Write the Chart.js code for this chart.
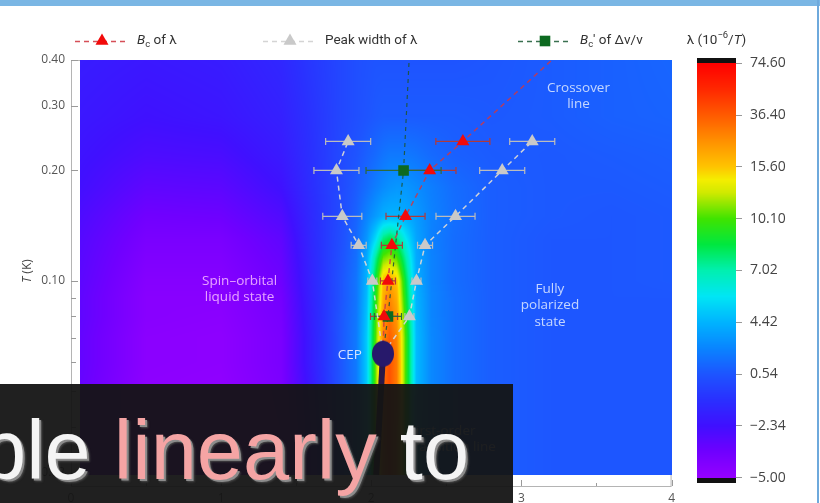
<!DOCTYPE html>
<html>
<head>
<meta charset="utf-8">
<script src="https://cdn.jsdelivr.net/npm/chart.js@4.4.1/dist/chart.umd.min.js"></script>
<style>
  html, body { margin: 0; padding: 0; background: #fff; width: 820px; height: 503px; overflow: hidden; }
  #main { position: absolute; left: 0; top: 0; }
  #bar { position: absolute; left: 670px; top: 0; }
  #frameTop { position: absolute; left: 0; top: 0; width: 820px; height: 6px; background: #7ab6e4; }
  #frameRight { position: absolute; left: 817px; top: 0; width: 2px; height: 503px; background: #6ea9dc; }
  #caption { position: absolute; left: 0; top: 384px; width: 513px; height: 119px; background: rgba(20, 20, 20, 0.95); overflow: hidden; }
  #caption .txt { position: absolute; left: -20px; top: 25px; font: 83px/83px "Liberation Sans", Arial, sans-serif; color: #f4f4f4; white-space: nowrap;
    text-shadow: 2px 2px 0 #8c8c8c, 3px 3px 2px #4a4a4a; }
  #caption .hl { color: #f5a4a4; }
</style>
</head>
<body>
<canvas id="main" width="680" height="503"></canvas>
<canvas id="bar" width="150" height="503"></canvas>
<div id="frameTop"></div>
<div id="frameRight"></div>
<div id="caption"><div class="txt">ble <span class="hl">linearly</span> to</div></div>
<script>
// ---- data: field B (T) and temperature T (K) ----
const bcField = [2.085, 2.111, 2.137, 2.228, 2.389, 2.610];
const bcTemp  = [0.08, 0.10, 0.125, 0.15, 0.20, 0.24];
const bcErr   = [0.09, 0.05, 0.07, 0.13, 0.175, 0.18];

const widthLowField = [2.007, 1.916, 1.807, 1.768, 1.846];
const widthLowTemp  = [0.10, 0.125, 0.15, 0.20, 0.24];
const widthLowErr   = [0.03, 0.05, 0.13, 0.15, 0.15];

const widthHighField = [2.254, 2.301, 2.358, 2.561, 2.872, 3.072];
const widthHighTemp  = [0.08, 0.10, 0.125, 0.15, 0.20, 0.24];
const widthHighErr   = [0.03, 0.03, 0.05, 0.13, 0.15, 0.15];

const sonicField = [2.111, 2.215];
const sonicTemp  = [0.08, 0.20];
const sonicErr   = [0.09, 0.25];

const cepField = 2.078;
const cepTemp  = 0.0633;

const crossoverField = [cepField, ...bcField, 3.203];
const crossoverTemp  = [cepTemp, ...bcTemp, 0.40];
const sonicLineField = [cepField, 2.111, 2.215, 2.252];
const sonicLineTemp  = [cepTemp, 0.08, 0.20, 0.40];
const firstOrderField = [cepField, 2.033];
const firstOrderTemp  = [cepTemp, 0.0296];

// λ map (10^-6/T) on a field x temperature grid
const mapField = [0.06, 0.5, 1.0, 1.4, 1.6, 1.8, 1.9, 1.97, 2.03, 2.08, 2.12, 2.17, 2.23, 2.3, 2.4, 2.55, 2.8, 3.2, 3.6, 4.0];
const mapTemp  = [0.0296, 0.04, 0.05, 0.06, 0.07, 0.08, 0.09, 0.10, 0.115, 0.13, 0.15, 0.18, 0.22, 0.28, 0.40];
const lambdaMap = [
  [-3.4,-4.7,-4.8,-4.2,-2.2,0.5,2.0, 5.0,11,30,40,28,10,4.5,2.6, 1.6,0.9,0.6,0.6,0.6],
  [-3.4,-4.7,-4.8,-4.2,-2.2,0.5,2.0, 5.0,11,32,40,28,10,4.5,2.6, 1.6,0.9,0.6,0.6,0.6],
  [-3.4,-4.7,-4.8,-4.1,-2.0,0.6,2.0, 5.0,11,33,40,30,10,4.6,2.6, 1.6,0.9,0.6,0.6,0.6],
  [-3.3,-4.6,-4.7,-4.0,-1.8,0.6,2.0, 5.0,11,32,40,30,10,4.6,2.6, 1.6,0.9,0.6,0.6,0.6],
  [-3.3,-4.6,-4.7,-4.0,-1.8,0.6,2.0, 5.0,10.5,28,36,28,10,4.6,2.6, 1.6,0.9,0.6,0.6,0.6],
  [-3.2,-4.5,-4.6,-3.9,-1.7,0.6,1.9, 4.8,10,24,32,24,9.5,4.5,2.5, 1.6,0.9,0.6,0.6,0.6],
  [-3.2,-4.5,-4.5,-3.8,-1.6,0.5,1.8, 4.6,9.5,20,28,20,9,4.4,2.5, 1.6,0.9,0.6,0.6,0.6],
  [-3.1,-4.4,-4.4,-3.6,-1.5,0.5,1.8, 4.4,9,17,22,16,8.5,4.2,2.4, 1.5,0.9,0.6,0.6,0.7],
  [-3.0,-4.2,-4.2,-3.4,-1.4,0.4,1.6, 4.0,7.5,11,12,10.5,7.2,4.0,2.4, 1.5,0.9,0.6,0.6,0.7],
  [-2.9,-4.0,-4.0,-3.2,-1.3,0.3,1.4, 3.2,5.5,7.8,8.5,7.8,5.8,3.8,2.3, 1.5,0.9,0.6,0.6,0.7],
  [-2.7,-3.7,-3.6,-2.8,-1.2,0.2,1.1, 2.4,3.4,4.2,4.4,4.4,4.0,3.4,2.4, 1.6,0.9,0.7,0.6,0.7],
  [-2.4,-3.2,-3.1,-2.3,-1.0,0.1,0.8, 1.5,2.2,2.7,3.0,3.2,3.2,2.8,2.2, 1.5,0.9,0.7,0.7,0.8],
  [-2.2,-2.7,-2.6,-1.9,-0.9,0.1,0.5, 1.0,1.4,1.8,2.0,2.0,2.0,1.8,1.4, 1.0,0.8,0.7,0.8,0.9],
  [-2.0,-2.3,-2.1,-1.6,-0.8,0.0,0.3, 0.5,0.7,0.8,0.8,0.8,0.8,0.8,0.8, 0.8,0.7,0.8,1.0,1.1],
  [-1.8,-2.0,-1.8,-1.3,-0.6,0.0,0.3, 0.4,0.5,0.5,0.5,0.5,0.5,0.5,0.5, 0.5,0.6,0.8,1.0,1.2]
];

// axis ticks
const lambdaTicks = [-5.00, -2.34, 0.54, 4.42, 7.02, 10.10, 15.60, 36.40, 74.60];
const tempTicks = [0.03, 0.1, 0.2, 0.3, 0.4];
const tempMinorTicks = [0.04, 0.05, 0.06, 0.07, 0.08, 0.09];
const fieldTicks = [0, 1, 2, 3, 4];
const fieldMinorTicks = [0.5, 1.5, 2.5, 3.5];

// ---- colour scale: equal steps between the λ tick levels ----
const colorStops = [
  [0.0, 150, 0, 255], [0.5, 112, 0, 255], [1.0, 64, 16, 255], [1.5, 42, 48, 255],
  [2.0, 30, 85, 255], [2.5, 10, 133, 255], [3.0, 0, 180, 255], [3.5, 0, 230, 245],
  [4.0, 0, 240, 176], [4.5, 0, 232, 64], [5.0, 64, 228, 0], [5.5, 208, 234, 0],
  [5.75, 245, 238, 0], [6.0, 255, 196, 0], [6.5, 255, 144, 0], [7.0, 255, 90, 0],
  [7.5, 255, 40, 0], [8.0, 255, 0, 0]
];

function bracket(arr, v) {
  const n = arr.length;
  if (v <= arr[0]) return [0, 0];
  if (v >= arr[n - 1]) return [n - 2, 1];
  let i = 0;
  while (v > arr[i + 1]) i++;
  return [i, (v - arr[i]) / (arr[i + 1] - arr[i])];
}
function lambdaToPos(v) { const [i, f] = bracket(lambdaTicks, v); return i + f; }
function posToRgb(p) {
  if (p <= colorStops[0][0]) return colorStops[0].slice(1);
  for (let i = 0; i < colorStops.length - 1; i++) {
    const a = colorStops[i], b = colorStops[i + 1];
    if (p <= b[0]) {
      const f = (p - a[0]) / (b[0] - a[0]);
      return [a[1] + (b[1] - a[1]) * f, a[2] + (b[2] - a[2]) * f, a[3] + (b[3] - a[3]) * f];
    }
  }
  return colorStops[colorStops.length - 1].slice(1);
}
function fmtLambda(v) { return (v < 0 ? '\u2212' : '') + Math.abs(v).toFixed(2); }

Chart.defaults.font.family = '"Open Sans", "DejaVu Sans", sans-serif';
Chart.defaults.color = '#555';

// CEP marker: filled ellipse
const cepMark = document.createElement('canvas');
cepMark.width = 24; cepMark.height = 28;
(function () {
  const c = cepMark.getContext('2d');
  c.fillStyle = '#27196b';
  c.beginPath(); c.ellipse(12, 14, 11, 13, 0, 0, Math.PI * 2); c.fill();
})();

const pts = (xs, ys, es) => xs.map((x, i) => ({ x, y: ys[i], e: es ? es[i] : 0 }));

const RED = '#f20a0a', GRAY = '#c9c9c9', GREEN = '#0d6a20';

// ---- frame, heat map and error bars under the series ----
const framePlugin = {
  id: 'frame',
  beforeDatasetsDraw(chart) {
    const { ctx, chartArea: a } = chart;
    ctx.save();
    ctx.strokeStyle = '#b4b4b4'; ctx.lineWidth = 1;
    ctx.strokeRect(a.left + 0.5, a.top + 0.5, a.right - a.left - 1, a.bottom - a.top);
    ctx.restore();
  }
};

const heatPlugin = {
  id: 'heat',
  beforeDatasetsDraw(chart) {
    const { ctx, scales: { x: xs, y: ys } } = chart;
    const x0 = Math.round(xs.getPixelForValue(mapField[0]));
    const x1 = Math.round(xs.getPixelForValue(mapField[mapField.length - 1]));
    const y0 = Math.round(ys.getPixelForValue(mapTemp[mapTemp.length - 1]));
    const y1 = Math.round(ys.getPixelForValue(mapTemp[0]));
    const w = x1 - x0, h = y1 - y0;
    const posGrid = lambdaMap.map(r => r.map(lambdaToPos));
    const logT = mapTemp.map(Math.log);
    const off = document.createElement('canvas');
    off.width = w; off.height = h;
    const octx = off.getContext('2d');
    const img = octx.createImageData(w, h);
    const cols = [];
    for (let i = 0; i < w; i++) cols.push(bracket(mapField, xs.getValueForPixel(x0 + i + 0.5)));
    for (let j = 0; j < h; j++) {
      const [r, fr] = bracket(logT, Math.log(ys.getValueForPixel(y0 + j + 0.5)));
      const lo = posGrid[r], hi = posGrid[r + 1];
      for (let i = 0; i < w; i++) {
        const [c, fc] = cols[i];
        const p = (lo[c] * (1 - fc) + lo[c + 1] * fc) * (1 - fr) + (hi[c] * (1 - fc) + hi[c + 1] * fc) * fr;
        const rgb = posToRgb(p);
        const k = (j * w + i) * 4;
        img.data[k] = rgb[0]; img.data[k + 1] = rgb[1]; img.data[k + 2] = rgb[2]; img.data[k + 3] = 255;
      }
    }
    octx.putImageData(img, 0, 0);
    ctx.drawImage(off, x0, y0);

    // horizontal error bars
    ctx.save();
    chart.data.datasets.forEach(ds => {
      if (!ds.errorColor) return;
      ctx.strokeStyle = ds.errorColor; ctx.lineWidth = 1.2;
      ds.data.forEach(p => {
        if (!p.e) return;
        const a = xs.getPixelForValue(p.x - p.e), b = xs.getPixelForValue(p.x + p.e), y = ys.getPixelForValue(p.y);
        ctx.beginPath();
        ctx.moveTo(a, y); ctx.lineTo(b, y);
        ctx.moveTo(a, y - 3.5); ctx.lineTo(a, y + 3.5);
        ctx.moveTo(b, y - 3.5); ctx.lineTo(b, y + 3.5);
        ctx.stroke();
      });
    });
    ctx.restore();
  }
};

// ---- region labels ----
const labelPlugin = {
  id: 'regionLabels',
  afterDatasetsDraw(chart) {
    const { ctx, scales: { x: xs, y: ys } } = chart;
    ctx.save();
    ctx.font = '13.5px "Open Sans", sans-serif';
    ctx.textAlign = 'center'; ctx.textBaseline = 'middle';
    const block = (lines, b, t, color, step) => {
      const cx = xs.getPixelForValue(b), cy = ys.getPixelForValue(t);
      ctx.fillStyle = color;
      lines.forEach((s, i) => ctx.fillText(s, cx, cy + (i - (lines.length - 1) / 2) * step));
    };
    block(['Crossover', 'line'], 3.38, 0.318, 'rgba(225,235,255,0.85)', 16);
    block(['Spin\u2013orbital', 'liquid state'], 1.123, 0.095, 'rgba(255,200,255,0.8)', 16.6);
    block(['Fully', 'polarized', 'state'], 3.19, 0.0857, 'rgba(225,235,255,0.85)', 16.6);
    ctx.textAlign = 'left';
    ctx.fillStyle = 'rgba(235,240,255,0.85)';
    ctx.fillText('First-order', 409, 431);
    ctx.fillText('transition line', 409, 447);
    ctx.textAlign = 'right';
    ctx.fillStyle = 'rgba(235,238,255,0.9)';
    ctx.fillText('CEP', xs.getPixelForValue(cepField) - 21, ys.getPixelForValue(cepTemp) + 1);
    ctx.restore();
  }
};

// ---- inward tick marks, axis title and legend ----
function drawRich(ctx, x, y, parts, size) {
  parts.forEach(([t, st]) => {
    let f = size, dy = 0, it = '';
    if (st === 'sub') { f = size * 0.7; dy = 4; }
    if (st === 'sup') { f = size * 0.7; dy = -5; }
    if (st === 'i') it = 'italic ';
    ctx.font = `${it}${f}px Roboto, "Open Sans", sans-serif`;
    ctx.fillText(t, x, y + dy);
    x += ctx.measureText(t).width;
  });
  return x;
}

const decorPlugin = {
  id: 'decor',
  afterDraw(chart) {
    const { ctx, chartArea: a, scales: { x: xs, y: ys } } = chart;
    ctx.save();
    ctx.strokeStyle = '#9a9a9a'; ctx.lineWidth = 1;
    ctx.beginPath();
    tempTicks.forEach(t => { const y = Math.round(ys.getPixelForValue(t)) + 0.5; ctx.moveTo(a.left, y); ctx.lineTo(a.left + 7, y); });
    tempMinorTicks.forEach(t => { const y = Math.round(ys.getPixelForValue(t)) + 0.5; ctx.moveTo(a.left, y); ctx.lineTo(a.left + 5, y); });
    fieldTicks.forEach(b => { const x = Math.round(xs.getPixelForValue(b)) + 0.5; ctx.moveTo(x, a.bottom); ctx.lineTo(x, a.bottom - 6); });
    fieldMinorTicks.forEach(b => { const x = Math.round(xs.getPixelForValue(b)) + 0.5; ctx.moveTo(x, a.bottom); ctx.lineTo(x, a.bottom - 3); });
    ctx.stroke();

    // axis title
    ctx.translate(28, 271);
    ctx.rotate(-Math.PI / 2);
    ctx.fillStyle = '#444'; ctx.textBaseline = 'middle'; ctx.textAlign = 'left';
    ctx.font = 'italic 12px "Open Sans", sans-serif';
    const w1 = ctx.measureText('T').width;
    ctx.font = '12px "Open Sans", sans-serif';
    const w2 = ctx.measureText(' (K)').width;
    let x = -(w1 + w2) / 2;
    ctx.font = 'italic 12px "Open Sans", sans-serif'; ctx.fillText('T', x, 0);
    ctx.font = '12px "Open Sans", sans-serif'; ctx.fillText(' (K)', x + w1, 0);
    ctx.restore();

    // legend
    ctx.save();
    ctx.textBaseline = 'middle'; ctx.textAlign = 'left';
    const ly = 41;
    chart.data.datasets.forEach(ds => {
      if (!ds.legendAt) return;
      const x0 = ds.legendAt;
      ctx.strokeStyle = ds.legendLine; ctx.lineWidth = 1.4; ctx.setLineDash([5, 4]);
      ctx.beginPath(); ctx.moveTo(x0, ly + 0.5); ctx.lineTo(x0 + 54, ly + 0.5); ctx.stroke();
      ctx.setLineDash([]);
      ctx.fillStyle = ds.backgroundColor; ctx.strokeStyle = ds.backgroundColor;
      Chart.helpers.drawPoint(ctx, { pointStyle: ds.pointStyle, radius: ds.pointRadius, rotation: 0, borderWidth: 0 }, x0 + 27, ly);
      ctx.fillStyle = '#333';
      drawRich(ctx, x0 + 62, ly, ds.legendParts, 13.5);
    });
    ctx.restore();
  }
};

const mainChart = new Chart(document.getElementById('main'), {
  type: 'scatter',
  data: {
    datasets: [
      { label: 'CEP', data: [{ x: cepField, y: cepTemp }], pointStyle: cepMark, pointRadius: 12, backgroundColor: '#27196b' },
      { label: 'Bc of λ', data: pts(bcField, bcTemp, bcErr), pointStyle: 'triangle', pointRadius: 7.5,
        backgroundColor: RED, borderWidth: 0, errorColor: '#b03a3a',
        legendAt: 75, legendLine: 'rgba(210,60,70,0.9)', legendParts: [['B', 'i'], ['c', 'sub'], [' of λ', '']] },
      { label: "Bc' of Δv/v", data: pts(sonicField, sonicTemp, sonicErr), pointStyle: 'rect', pointRadius: 7.5,
        backgroundColor: GREEN, borderWidth: 0, errorColor: '#2f6b3a',
        legendAt: 518, legendLine: '#3a7050', legendParts: [['B', 'i'], ['c', 'sub'], ["'", ''], [' of Δv/v', '']] },
      { label: 'Peak width of λ', data: pts(widthLowField, widthLowTemp, widthLowErr), pointStyle: 'triangle', pointRadius: 7.5,
        backgroundColor: GRAY, borderWidth: 0, errorColor: '#bcbcbc',
        legendAt: 263, legendLine: '#d4d4d4', legendParts: [['Peak width of λ', '']] },
      { label: 'Peak width of λ (high field)', data: pts(widthHighField, widthHighTemp, widthHighErr), pointStyle: 'triangle', pointRadius: 7.5,
        backgroundColor: GRAY, borderWidth: 0, errorColor: '#bcbcbc' },
      { label: 'Crossover line', data: pts(crossoverField, crossoverTemp), showLine: true, pointRadius: 0,
        borderColor: 'rgba(205,55,70,0.85)', borderWidth: 1.5, borderDash: [5, 4] },
      { label: 'Sound velocity line', data: pts(sonicLineField, sonicLineTemp), showLine: true, pointRadius: 0,
        borderColor: 'rgba(30,85,55,0.9)', borderWidth: 1.2, borderDash: [4, 4] },
      { label: 'Peak width low', data: pts([cepField, ...widthLowField], [cepTemp, ...widthLowTemp]), showLine: true, pointRadius: 0,
        borderColor: 'rgba(215,215,215,0.95)', borderWidth: 1.5, borderDash: [5, 4] },
      { label: 'Peak width high', data: pts([cepField, ...widthHighField], [cepTemp, ...widthHighTemp]), showLine: true, pointRadius: 0,
        borderColor: 'rgba(215,215,215,0.95)', borderWidth: 1.5, borderDash: [5, 4] },
      { label: 'First-order transition line', data: pts(firstOrderField, firstOrderTemp), showLine: true, pointRadius: 0,
        borderColor: '#2a1846', borderWidth: 6 }
    ]
  },
  options: {
    responsive: false,
    animation: false,
    events: [],
    layout: { autoPadding: false, padding: { top: 60, right: 0, left: 0, bottom: 0 } },
    plugins: { legend: { display: false }, tooltip: { enabled: false } },
    scales: {
      x: {
        type: 'linear', min: 0, max: 4,
        afterBuildTicks: s => { s.ticks = fieldTicks.map(v => ({ value: v })); },
        afterFit: s => { s.height = 17; },
        grid: { display: true, drawOnChartArea: false, drawTicks: false }, border: { display: false },
        ticks: { padding: 5, color: '#555', font: { size: 12 }, maxRotation: 0, callback: v => String(v) }
      },
      y: {
        type: 'logarithmic', min: 0.0276, max: 0.4,
        afterBuildTicks: s => { s.ticks = tempTicks.map(v => ({ value: v })); },
        afterFit: s => { s.width = 71; },
        grid: { display: true, drawOnChartArea: false, drawTicks: false }, border: { display: false },
        ticks: { padding: 6, color: '#555', font: { size: 12 }, callback: v => Number(v).toFixed(2) }
      }
    }
  },
  plugins: [framePlugin, heatPlugin, labelPlugin, decorPlugin]
});

// ---- colour bar ----
const barPlugin = {
  id: 'colorBar',
  beforeDatasetsDraw(chart) {
    const { ctx, chartArea: a, scales: { y } } = chart;
    for (let py = Math.round(a.top); py < Math.round(a.bottom); py++) {
      const p = y.getValueForPixel(py + 0.5);
      let fill = '#111';
      if (p >= 0 && p <= 8) { const c = posToRgb(p); fill = `rgb(${c[0] | 0},${c[1] | 0},${c[2] | 0})`; }
      ctx.fillStyle = fill;
      ctx.fillRect(a.left, py, a.right - a.left, 1);
    }
  },
  afterDraw(chart) {
    const { ctx, chartArea: a } = chart;
    ctx.save();
    ctx.fillStyle = '#333'; ctx.textBaseline = 'middle'; ctx.textAlign = 'left';
    const parts = [['λ (10', ''], ['\u22126', 'sup'], ['/', ''], ['T', 'i'], [')', '']];
    let w = 0;
    parts.forEach(([t, st]) => {
      ctx.font = `${st === 'i' ? 'italic ' : ''}${st === 'sup' ? 9.5 : 13.5}px Roboto, "Open Sans", sans-serif`;
      w += ctx.measureText(t).width;
    });
    drawRich(ctx, (a.left + a.right) / 2 - w / 2, 41, parts, 13.5);
    ctx.restore();
  }
};

new Chart(document.getElementById('bar'), {
  type: 'scatter',
  data: { datasets: [] },
  options: {
    responsive: false,
    animation: false,
    events: [],
    layout: { autoPadding: false, padding: { top: 58, bottom: 20, left: 27, right: 0 } },
    plugins: { legend: { display: false }, tooltip: { enabled: false } },
    scales: {
      x: { display: false, min: 0, max: 1 },
      y: {
        position: 'right', min: -0.1, max: 8.1,
        afterBuildTicks: s => { s.ticks = lambdaTicks.map((v, i) => ({ value: i })); },
        afterFit: s => { s.width = 84; },
        grid: { drawOnChartArea: false, tickLength: 6, color: '#999' },
        border: { display: false },
        ticks: { padding: 8, color: '#444', font: { size: 14 }, callback: (v, i) => fmtLambda(lambdaTicks[i]) }
      }
    }
  },
  plugins: [barPlugin]
});
</script>
</body>
</html>
